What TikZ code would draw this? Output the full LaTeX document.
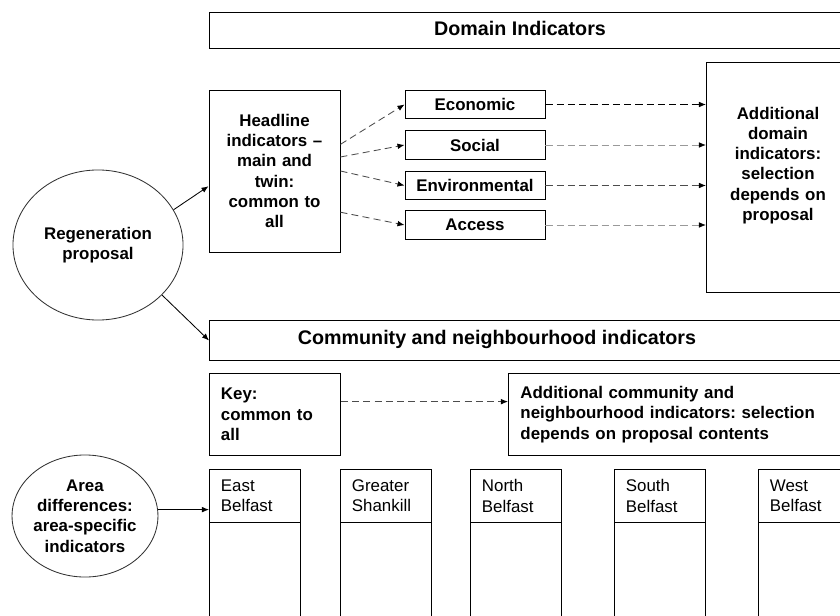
\documentclass[tikz,border=0pt]{standalone}
\usepackage{fontspec}
\setmainfont{Liberation Sans}
\usetikzlibrary{arrows.meta,shapes.geometric}

\begin{document}
\frenchspacing
\begin{tikzpicture}[x=0.025cm, y=-0.025cm,
    font=\fontsize{12}{14.4}\selectfont\bfseries,
    box/.style={draw, line width=0.65pt},
    oval/.style={draw=black!80, line width=0.6pt, ellipse, align=center, inner sep=0pt},
    title/.style={font=\fontsize{14}{17}\selectfont\bfseries},
    colhead/.style={box, font=\fontsize{12}{14.4}\selectfont\mdseries, minimum width=2.275cm,
        minimum height=1.325cm, text width=1.7cm, align=left, inner xsep=0.275cm},
    arr/.style={-{Latex[length=5pt,width=4pt,color=black]}, line width=0.6pt},
    darr/.style={arr, dash pattern=on 5pt off 3pt}]

\useasboundingbox (0,0) rectangle (840,616);
\clip (0,0) rectangle (840,616);

% ----------------------------------------------------------
% Domain indicators
% ----------------------------------------------------------
\node (domain) [box, minimum width=16.5cm, minimum height=0.9cm, anchor=north west] at (209,12) {};
\node (domaintitle) [title] at (520,28) {Domain Indicators};

\node (headline) [box, minimum width=3.275cm, minimum height=4.05cm, text width=3cm,
    align=center, inner sep=0pt] at (274.5,171)
    {Headline\\ indicators --\\ main and\\ twin:\\ common to\\ all};

% Domain boxes
\foreach \y/\name/\txt in {104.5/econ/Economic, 145/social/Social,
    185.5/envir/Environmental, 225/access/Access} {
    \node (\name) [box, minimum width=3.5cm, minimum height=0.72cm, inner sep=0pt] at (475,\y) {\txt};
}

\node (adddomain) [box, minimum width=3.6cm, minimum height=5.75cm, anchor=north west] at (706,62) {};
\node (adddomaintext) [text width=3.4cm, align=center, anchor=north] at (778,102)
    {Additional\\ domain\\ indicators:\\ selection\\ depends on\\ proposal};

% Headline to domain boxes
\foreach \a/\name in {22/econ, 12/social, 0/envir, -32/access} {
    \draw[darr, draw=black!70] (headline.\a) -- (\name.west);
}

% Domain boxes to additional indicators
\foreach \name/\col in {econ/black, social/black!40, envir/black!70, access/black!40} {
    \draw[darr, draw=\col] (\name.east) -- (\name.east -| adddomain.west);
}

% ----------------------------------------------------------
% Regeneration proposal
% ----------------------------------------------------------
\node (regen) [oval, minimum width=4.25cm, minimum height=3.75cm] at (98,245) {Regeneration\\ proposal};

% ----------------------------------------------------------
% Community and neighbourhood indicators
% ----------------------------------------------------------
\node (community) [box, minimum width=16.5cm, minimum height=1cm, anchor=north west] at (209,320) {};
\node (communitytitle) [title] at (497,339) {Community and neighbourhood indicators};

\draw[arr] (regen.25) -- (headline.193);
\draw[arr] (regen.-38) -- (community.west);

\node (key) [box, minimum width=3.275cm, minimum height=2.05cm, text width=2.7cm,
    align=left, anchor=north west, inner xsep=0.275cm] at (209,373) {Key:\\ common to\\ all};

\node (addcomm) [box, minimum height=2.05cm, text width=9cm, align=left,
    anchor=north west, inner xsep=0.3cm] at (508,373)
    {Additional community and\\ neighbourhood indicators: selection\\ depends on proposal contents};

\draw[darr, draw=black!70] (key.11) -- (key.11 -| addcomm.west);

% ----------------------------------------------------------
% Area differences
% ----------------------------------------------------------
\node (area) [oval, minimum width=3.6cm, minimum height=3.05cm] at (85,516)
    {Area\\ differences:\\ area-specific\\ indicators};

% Area columns
\foreach \x/\name/\txt in {209/eastb/{East\\Belfast}, 340/shankill/{Greater\\Shankill},
    470/northb/{North\\Belfast}, 614/southb/{South\\Belfast}, 758/westb/{West\\Belfast}} {
    \node (\name) [colhead, anchor=north west] at (\x,469) {\txt};
    \draw[box] (\name.south west) rectangle ++(91,150);
}

\draw[arr] (area.5) -- (area.5 -| eastb.west);

\end{tikzpicture}
\end{document}
